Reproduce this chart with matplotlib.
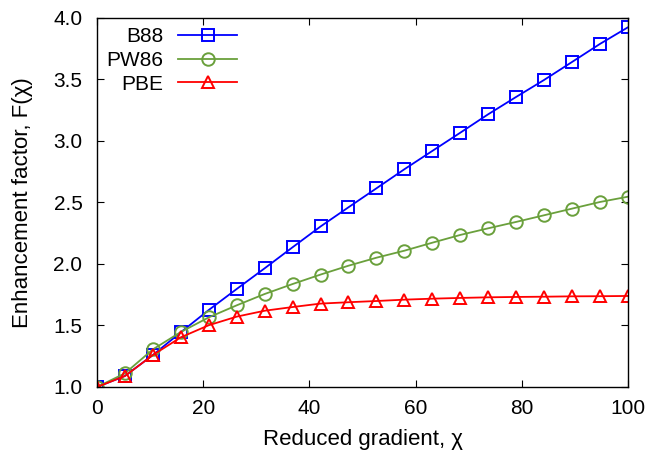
import numpy as np
import matplotlib
matplotlib.use('Agg')
import matplotlib.pyplot as plt

plt.rcParams['font.family'] = ['Liberation Sans', 'DejaVu Sans']
plt.rcParams['font.size'] = 15

# reduced gradient, 20 points from 0 to 100
chi = [0.0, 5.26, 10.53, 15.79, 21.05, 26.32, 31.58, 36.84, 42.11, 47.37,
       52.63, 57.89, 63.16, 68.42, 73.68, 78.95, 84.21, 89.47, 94.74, 100.0]

b88 = [1.00, 1.09, 1.26, 1.445, 1.626, 1.797, 1.965, 2.136, 2.305, 2.461,
       2.615, 2.770, 2.919, 3.067, 3.217, 3.358, 3.496, 3.642, 3.789, 3.924]
pw86 = [1.00, 1.111, 1.306, 1.447, 1.566, 1.664, 1.756, 1.837, 1.914, 1.986,
        2.051, 2.108, 2.173, 2.236, 2.290, 2.342, 2.396, 2.450, 2.504, 2.547]
pbe = [1.00, 1.089, 1.26, 1.404, 1.502, 1.572, 1.620, 1.650, 1.678, 1.689,
       1.699, 1.710, 1.718, 1.724, 1.729, 1.732, 1.734, 1.737, 1.738, 1.740]

xticks = [0, 20, 40, 60, 80, 100]
yticks = [1.0, 1.5, 2.0, 2.5, 3.0, 3.5, 4.0]

fig = plt.figure(figsize=(6.52, 4.54), dpi=100)
ax = fig.add_axes([0.1488, 0.1476, 0.8142, 0.8128])

kw = dict(lw=1.3, mew=1.4, mfc='none')
ax.plot(chi, b88, color='#0000ff', marker='s', ms=9, label='B88', **kw)
ax.plot(chi, pw86, color='#6aa03c', marker='o', ms=9, label='PW86', **kw)
ax.plot(chi, pbe, color='#ff0000', marker='^', ms=9, label='PBE', **kw)

ax.set_xlim(0, 100)
ax.set_ylim(1.0, 4.0)
ax.set_xticks(xticks)
ax.set_yticks(yticks)
ax.set_xticklabels([str(t) for t in xticks])
ax.set_yticklabels(['%.1f' % t for t in yticks])
ax.tick_params(direction='in', length=5, width=0.8, top=True, right=True,
               labelsize=15)
ax.tick_params(axis='x', pad=9)
ax.tick_params(axis='y', pad=10.5)
for s in ax.spines.values():
    s.set_linewidth(1.0)

ax.set_xlabel('Reduced gradient, χ', fontsize=16)
ax.set_ylabel('Enhancement factor, F(χ)', fontsize=16)
ax.xaxis.set_label_coords(0.5, -0.113)
ax.yaxis.set_label_coords(-0.12, 0.5)

leg = ax.legend(loc='upper left', bbox_to_anchor=(0.0, 1.0), frameon=False,
                markerfirst=False, numpoints=1, handlelength=2.84,
                handletextpad=0.7, labelspacing=0.22, borderaxespad=0.05,
                fontsize=15)

fig.savefig('out.png', dpi=100)
